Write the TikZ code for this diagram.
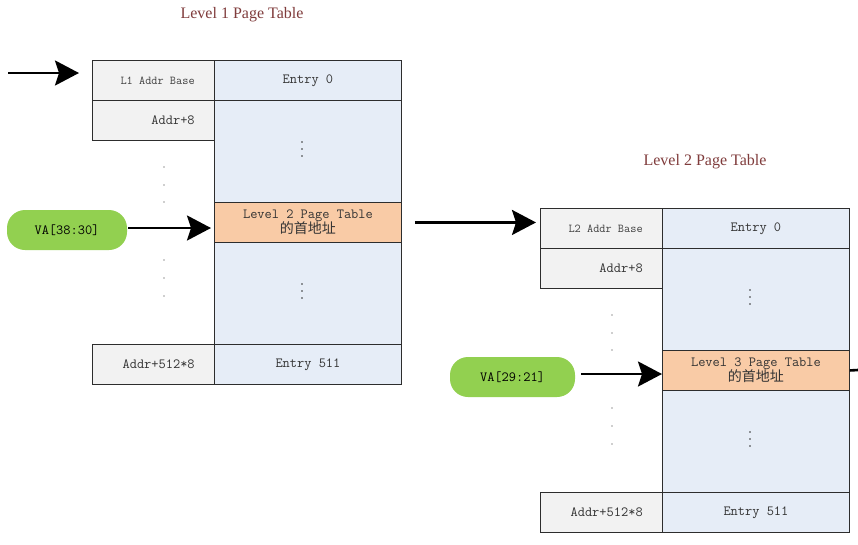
\documentclass[tikz,border=0pt]{standalone}
\usepackage{fontspec}
\setmainfont{Liberation Serif}
\newfontfamily\cjkf{Noto Sans CJK SC}
\usetikzlibrary{arrows.meta}
\definecolor{linec}{RGB}{45,45,45}
\definecolor{grayc}{RGB}{242,242,242}
\definecolor{bluec}{RGB}{230,237,247}
\definecolor{orangec}{RGB}{249,203,166}
\definecolor{greenc}{RGB}{146,208,80}
\definecolor{titlec}{RGB}{128,60,60}
\tikzset{
  cellL/.style={draw=linec, fill=grayc, line width=0.9pt, minimum width=122pt, minimum height=#1, anchor=north west, inner sep=0pt},
  cellR/.style={draw=linec, fill=bluec, line width=0.9pt, minimum width=187pt, minimum height=#1, anchor=north west, inner sep=0pt},
  cellO/.style={draw=linec, fill=orangec, line width=0.9pt, minimum width=187pt, minimum height=40pt, anchor=north west, inner sep=0pt, align=center, font=\ttfamily\fontsize{14}{17}\selectfont, text=black!80},
  lbl/.style={inner sep=0pt, font=\ttfamily\fontsize{14}{16}\selectfont, text=black!80},
  smalllbl/.style={inner sep=0pt, font=\ttfamily\fontsize{12}{14}\selectfont, text=black!75},
  pill/.style={fill=greenc, rounded corners=18pt, minimum height=40pt, inner sep=0pt, font=\ttfamily\fontsize{14}{16}\selectfont, text=black},
  ttl/.style={inner sep=0pt, font=\fontsize{16}{18}\selectfont, text=titlec},
  bigarrow/.style={line width=2.6pt, -{Stealth[length=24pt,width=25pt,inset=4pt]}},
  dotc/.style={fill=black!80, circle, inner sep=0pt, minimum size=1.6pt}
}
\newcommand\ptable[5]{%
\begin{scope}[shift={(#2,#3)}]
  \node[cellL=40pt] (#1b0) at (92,60) {};
  \node[cellL=40pt] (#1b1) at (92,100) {};
  \node[cellL=40pt] (#1bn) at (92,344) {};
  \node[smalllbl, anchor=east] (#1b0t) at ([xshift=-20pt]#1b0.east) {L#5 Addr Base};
  \node[lbl, anchor=east] (#1b1t) at ([xshift=-20pt]#1b1.east) {Addr+8};
  \node[lbl, anchor=east] (#1bnt) at ([xshift=-20pt]#1bn.east) {Addr+512*8};
  \node[cellR=40pt] (#1e0) at (214,60) {};
  \node[lbl] (#1e0t) at (#1e0.center) {Entry 0};
  \node[cellR=102pt] (#1m1) at (214,100) {};
  \node[cellO] (#1o) at (214,202) {Level \the\numexpr#5+1\relax{} Page Table\\[-2pt]{\cjkf\fontsize{14}{15}\selectfont 的首地址}};
  \node[cellR=102pt] (#1m2) at (214,242) {};
  \node[cellR=40pt] (#1en) at (214,344) {};
  \node[lbl] (#1ent) at (#1en.center) {Entry 511};
  \foreach \yy in {142,149,156} {\node[dotc] at (302,\yy) {};}
  \foreach \yy in {284,291,298} {\node[dotc] at (302,\yy) {};}
  \foreach \yy in {167,185,202,260,278,296} {\node[dotc, minimum size=1.4pt] at (164,\yy) {};}
\end{scope}}
\begin{document}
\begin{tikzpicture}[x=1pt,y=-1pt]
  \fill[white] (0,0) rectangle (858,544);
  \useasboundingbox (0,0) rectangle (858,544);
  \ptable{a}{0}{0}{L1}{1}
  \ptable{b}{448}{148}{L2}{2}
  \node[ttl] (title1) at (242,15) {Level 1 Page Table};
  \node[ttl] (title2) at (705,162) {Level 2 Page Table};
  \node[pill, minimum width=120pt] (va1) at (67,230) {VA[38:30]};
  \node[pill, minimum width=125pt] (va2) at (512.5,377) {VA[29:21]};
  \coordinate (start) at (8,73);
  \coordinate (exit) at (858,370);
  \draw[bigarrow] (start) -- ([xshift=-13pt]start -| ab0.west);
  \draw[bigarrow] ([xshift=1pt,yshift=2pt]va1.east) -- ([xshift=-3pt,yshift=2pt]va1.east -| ao.west);
  \draw[bigarrow] ([xshift=13pt]ao.east) -- ([xshift=-4pt]ao.east -| bb0.west);
  \draw[bigarrow] ([xshift=6pt,yshift=3pt]va2.east) -- ([yshift=3pt]va2.east -| bo.west);
  \draw[line width=2.6pt] (bo.east) -- (exit);
\end{tikzpicture}
\end{document}
